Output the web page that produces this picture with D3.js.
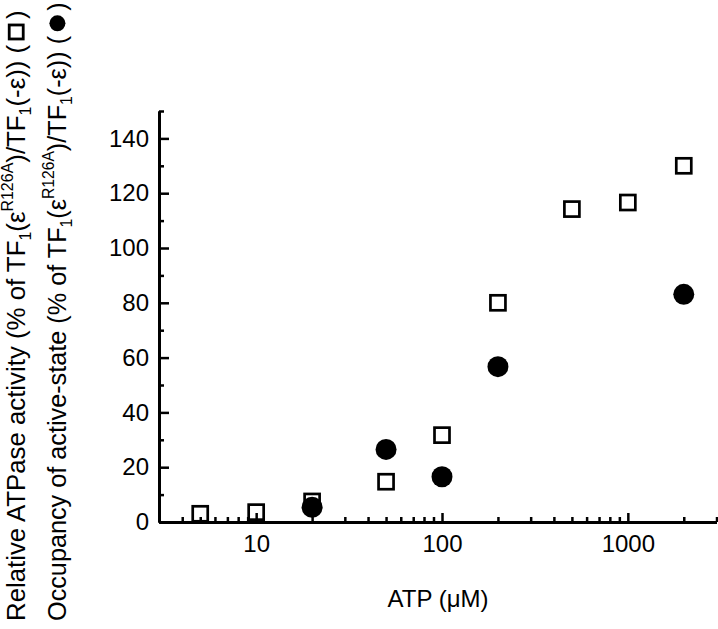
<!DOCTYPE html>
<html>
<head>
<meta charset="utf-8">
<script src="https://cdn.jsdelivr.net/npm/d3@7"></script>
<style>
  body { margin: 0; background: #fff; }
  svg { display: block; font-family: "Liberation Sans", Arial, sans-serif; }
</style>
</head>
<body>
<script>
// ATP concentrations (uM) and values
var atpSquare = [5, 10, 20, 50, 100, 200, 500, 1000, 2000];
var activity = [3.0, 3.6, 7.5, 14.7, 31.7, 80.0, 114.2, 116.6, 130.0];

var atpCircle = [20, 50, 100, 200, 2000];
var occupancy = [5.4, 26.5, 16.5, 56.7, 83.1];

var yMajor = [0, 20, 40, 60, 80, 100, 120, 140];
var yMinor = [10, 30, 50, 70, 90, 110, 130, 150];
var xMajor = [10, 100, 1000];
var xMinor = [4, 5, 6, 7, 8, 9, 20, 30, 40, 50, 60, 70, 80, 90,
              200, 300, 400, 500, 600, 700, 800, 900, 2000, 3000];

var w = 718, h = 629;

var svg = d3.select("body").append("svg")
    .attr("width", w)
    .attr("height", h);

var x = d3.scaleLog().domain([3, 3000]).range([159, 716.5]);
var y = d3.scaleLinear().domain([0, 150]).range([522, 111]);

// y axis
svg.append("g")
    .attr("transform", "translate(" + x.range()[0] + ",0)")
    .call(d3.axisLeft(y).tickValues(yMajor).tickSize(-10).tickSizeOuter(0).tickPadding(10));
svg.append("g")
    .attr("transform", "translate(" + x.range()[0] + ",0)")
    .call(d3.axisLeft(y).tickValues(yMinor).tickSize(-5).tickSizeOuter(0).tickFormat(""));

// x axis
svg.append("g")
    .attr("transform", "translate(0," + y(0) + ")")
    .call(d3.axisBottom(x).tickValues(xMajor).tickSize(-9).tickSizeOuter(0).tickPadding(13)
      .tickFormat(d3.format("d")));
svg.append("g")
    .attr("transform", "translate(0," + y(0) + ")")
    .call(d3.axisBottom(x).tickValues(xMinor).tickSize(-5).tickSizeOuter(0).tickFormat(""));

svg.selectAll(".domain").attr("stroke", "#000").attr("stroke-width", 3);
svg.selectAll(".tick line").attr("stroke", "#000").attr("stroke-width", 2.5);
svg.selectAll(".tick text")
    .attr("font-size", "24px")
    .attr("font-family", "Liberation Sans, Arial, sans-serif")
    .attr("fill", "#000");

// points
svg.selectAll("rect.pt")
   .data(atpSquare)
   .enter()
   .append("rect")
   .attr("class", "pt")
   .attr("x", function(d) { return x(d) - 7.5; })
   .attr("y", function(d, i) { return y(activity[i]) - 7.5; })
   .attr("width", 15)
   .attr("height", 15)
   .attr("fill", "none")
   .attr("stroke", "#000")
   .attr("stroke-width", 2.7);

svg.selectAll("circle.pt")
   .data(atpCircle)
   .enter()
   .append("circle")
   .attr("class", "pt")
   .attr("cx", function(d) { return x(d); })
   .attr("cy", function(d, i) { return y(occupancy[i]); })
   .attr("r", 10.5)
   .attr("fill", "#000");

// x title
svg.append("text")
   .attr("x", 438)
   .attr("y", 607)
   .attr("text-anchor", "middle")
   .attr("font-size", "24px")
   .attr("fill", "#000")
   .text("ATP (\u03bcM)");

// y titles (two rotated lines, with a marker shape at the end)
var yTitles = [
  { x: 25, len: 611, start: "Relative ATPase activity (% of TF", marker: "square" },
  { x: 66, len: 619, start: "Occupancy of active-state (% of TF", marker: "circle" }
];

yTitles.forEach(function(t) {
  var g = svg.append("g")
      .attr("transform", "translate(" + t.x + ",621) rotate(-90)");
  var txt = g.append("text")
      .attr("x", 0)
      .attr("y", 0)
      .attr("font-size", "24px")
      .attr("fill", "#000");
  txt.append("tspan").text(t.start);
  txt.append("tspan").attr("font-size", "0.62em").attr("dy", "0.4em").text("1");
  txt.append("tspan").attr("dy", "-0.25em").text("(\u03b5");
  txt.append("tspan").attr("font-size", "0.62em").attr("dy", "-0.75em").text("R126A");
  txt.append("tspan").attr("dy", "0.46em").text(")/TF");
  txt.append("tspan").attr("font-size", "0.62em").attr("dy", "0.4em").text("1");
  txt.append("tspan").attr("dy", "-0.25em").text("(-\u03b5)) (\u2003)");

  // fit the line to the length it has in the figure
  var node = txt.node();
  var fs = 24 * t.len / node.getComputedTextLength();
  txt.attr("font-size", fs + "px");

  // marker drawn in the gap between the last parentheses
  var n = node.getNumberOfChars();
  var box = node.getExtentOfChar(n - 2);
  var cx = box.x + box.width / 2;
  var cy = -0.34 * fs;
  if (t.marker == "square") {
    g.append("rect")
     .attr("x", cx - 7).attr("y", cy - 7)
     .attr("width", 14).attr("height", 14)
     .attr("fill", "none").attr("stroke", "#000").attr("stroke-width", 2.8);
  } else {
    g.append("circle")
     .attr("cx", cx).attr("cy", cy).attr("r", 8)
     .attr("fill", "#000");
  }
});
</script>
</body>
</html>
